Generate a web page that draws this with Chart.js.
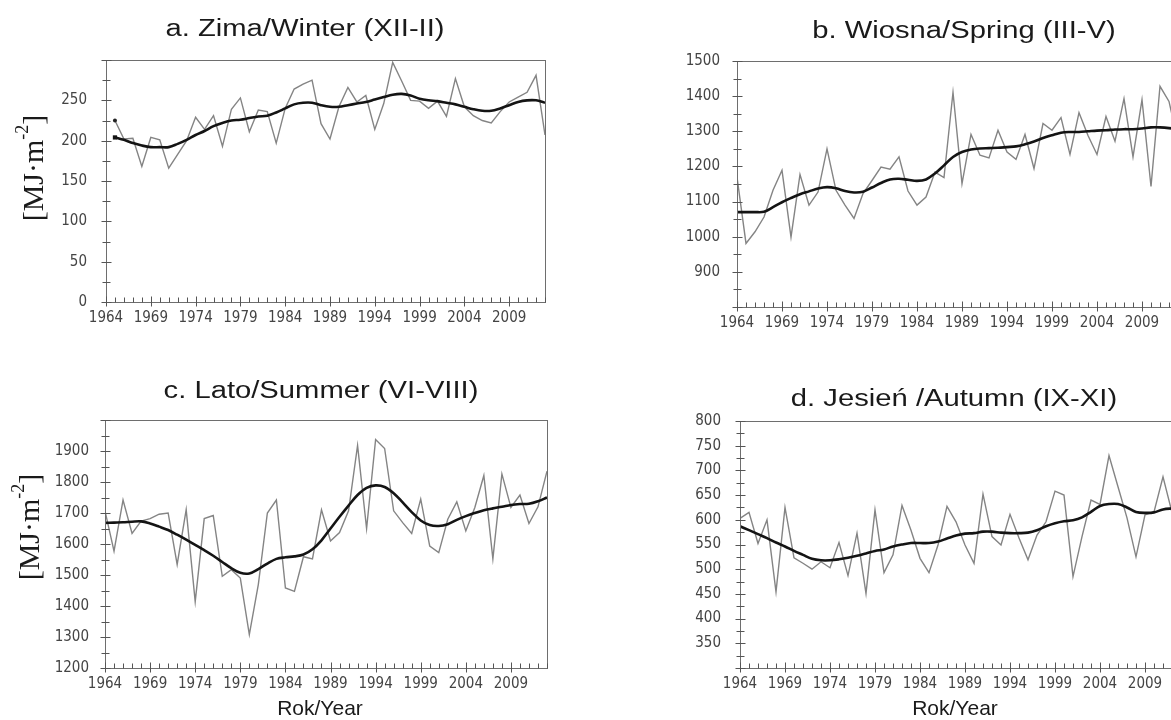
<!DOCTYPE html>
<html>
<head>
<meta charset="utf-8">
<script src="https://cdn.jsdelivr.net/npm/chart.js@4.4.1/dist/chart.umd.min.js"></script>
<style>
html,body{margin:0;padding:0;background:#fff;overflow:hidden;width:1171px;height:720px;}
canvas{position:absolute;display:block;}
</style>
</head>
<body>
<canvas id="ca" width="590" height="340" style="left:0px;top:0px"></canvas>
<canvas id="cb" width="640" height="340" style="left:600px;top:0px"></canvas>
<canvas id="cc" width="590" height="370" style="left:0px;top:360px"></canvas>
<canvas id="cd" width="640" height="370" style="left:600px;top:360px"></canvas>
<script>
// ---------------- DATA ----------------
const years = [1964,1965,1966,1967,1968,1969,1970,1971,1972,1973,1974,1975,1976,1977,1978,1979,1980,1981,1982,1983,1984,1985,1986,1987,1988,1989,1990,1991,1992,1993,1994,1995,1996,1997,1998,1999,2000,2001,2002,2003,2004,2005,2006,2007,2008,2009,2010,2011,2012,2013];
const winterYears = years.slice(1);
const xTickYears = [1964,1969,1974,1979,1984,1989,1994,1999,2004,2009];

const winterObs = [225,202,203,168,204,201,166,183,200,229,214,231,193,239,253,211,238,236,197,240,264,270,275,221,202,242,266,248,256,214,246,297,274,250,249,240,249,230,277,242,231,225,222,236,248,254,260,281,207];
const winterSmooth = [204,201,197,194,192,192,192,196,201,207,212,218,222,225,226,228,230,231,235,240,245,247,247,244,242,242,244,246,248,251,254,257,258,256,252,250,249,247,245,242,239,237,237,240,244,248,250,250,247];
const winterTicks = [0,50,100,150,200,250];

const springObs = [1170,981,1014,1056,1132,1189,999,1177,1090,1127,1250,1132,1090,1052,1123,1160,1198,1192,1227,1130,1090,1113,1184,1168,1411,1151,1291,1232,1224,1303,1241,1220,1291,1194,1322,1303,1339,1234,1353,1288,1234,1342,1272,1393,1227,1390,1143,1428,1385,1270];
const springSmooth = [1070,1070,1070,1071,1084,1098,1110,1121,1129,1137,1141,1138,1130,1126,1128,1140,1153,1163,1165,1162,1159,1163,1180,1203,1227,1241,1248,1251,1252,1253,1255,1257,1263,1271,1281,1289,1296,1298,1298,1300,1302,1303,1305,1306,1306,1308,1311,1311,1309,1305];
const springTicks = [900,1000,1100,1200,1300,1400,1500];

const summerObs = [1707,1577,1742,1634,1674,1682,1696,1700,1534,1711,1414,1682,1692,1496,1517,1490,1308,1470,1700,1742,1458,1447,1559,1552,1710,1610,1637,1707,1918,1650,1937,1908,1707,1669,1634,1745,1593,1572,1680,1736,1642,1718,1821,1552,1826,1718,1758,1666,1720,1835];
const summerSmooth = [1668,1669,1670,1672,1673,1666,1656,1645,1630,1614,1597,1580,1562,1542,1522,1507,1505,1519,1537,1552,1557,1560,1566,1583,1612,1650,1688,1724,1758,1781,1789,1784,1764,1734,1703,1676,1661,1658,1664,1678,1690,1700,1709,1715,1720,1726,1729,1730,1738,1750];
const summerTicks = [1200,1300,1400,1500,1600,1700,1800,1900];

const autumnObs = [603,615,552,600,454,625,523,512,500,515,503,554,487,573,451,620,493,529,629,579,522,493,549,627,596,549,512,652,566,549,611,563,519,569,596,658,650,485,566,640,631,730,667,604,525,610,616,687,615,640];
const autumnSmooth = [587,579,571,563,554,546,537,529,521,518,518,520,523,527,532,537,540,546,550,553,553,553,556,562,568,572,573,576,576,574,573,573,574,579,587,593,597,599,605,616,628,632,632,625,616,614,615,621,623,624];
const autumnTicks = [350,400,450,500,550,600,650,700,750,800];

// ---------------- DRAWING ----------------
const TICK_FONT = '"Liberation Sans Narrow", "Arial Narrow", "DejaVu Sans Condensed", sans-serif';
const TEXT_FONT = '"Liberation Sans", Arial, sans-serif';

const deco = {
  id: 'deco',
  afterDraw(chart, args, o) {
    const ctx = chart.ctx, a = chart.chartArea, xs = chart.scales.x, ys = chart.scales.y;
    ctx.save();
    ctx.strokeStyle = '#6e6e6e';
    ctx.lineWidth = 1;
    ctx.strokeRect(Math.round(a.left) + 0.5, Math.round(a.top) + 0.5, Math.round(a.right - a.left), Math.round(a.bottom - a.top));
    ctx.strokeStyle = '#555';
    ctx.beginPath();
    const L = Math.round(a.left) + 0.5, B = Math.round(a.bottom) + 0.5;
    for (let v = ys.min; v <= ys.max + 1e-6; v += o.yMinor) {
      const y = Math.round(ys.getPixelForValue(v)) + 0.5;
      const r = (v - ys.min) % o.yMajor;
      const major = Math.abs(r) < 1e-6 || Math.abs(r - o.yMajor) < 1e-6;
      const len = major ? 5 : 4;
      ctx.moveTo(L - len, y); ctx.lineTo(L + len, y);
    }
    for (const yr of years) {
      const x = Math.round(xs.getPixelForValue(yr)) + 0.5;
      if (xTickYears.includes(yr)) { ctx.moveTo(x, B + 4); ctx.lineTo(x, B - 6); }
      else { ctx.moveTo(x, B); ctx.lineTo(x, B - 5); }
    }
    ctx.stroke();
    ctx.fillStyle = '#1a1a1a';
    ctx.textBaseline = 'middle';
    ctx.textAlign = 'center';
    ctx.font = o.titleSize + 'px ' + TEXT_FONT;
    ctx.save();
    ctx.translate(o.titleX - o.ox, o.titleY - o.oy);
    ctx.scale(o.titleStretch, 1);
    ctx.fillText(o.title, 0, 0);
    ctx.restore();
    if (o.xLabel) {
      ctx.font = '21px ' + TEXT_FONT;
      ctx.fillText(o.xLabel, o.xLabelX - o.ox, o.xLabelY - o.oy);
    }
    if (o.yLabel) {
      ctx.save();
      ctx.translate(o.yLabelX - o.ox, o.yLabelY - o.oy);
      ctx.rotate(-Math.PI / 2);
      ctx.textAlign = 'left';
      ctx.textBaseline = 'middle';
      const big = '30px "Liberation Serif", "Times New Roman", serif';
      const small = '18px "Liberation Serif", "Times New Roman", serif';
      ctx.font = big; const w1 = ctx.measureText('[MJ\u00B7m').width;
      ctx.font = small; const w2 = ctx.measureText('-2').width;
      ctx.font = big; const w3 = ctx.measureText(']').width;
      let x0 = -(w1 + w2 + w3) / 2;
      ctx.font = big; ctx.fillText('[MJ\u00B7m', x0, 0);
      ctx.font = small; ctx.fillText('-2', x0 + w1, -12);
      ctx.font = big; ctx.fillText(']', x0 + w1 + w2, 0);
      ctx.restore();
    }
    ctx.restore();
  }
};

function makePanel(id, s) {
  const obsPts = s.xs.map((x, i) => ({x: x, y: s.obs[i]}));
  const smPts = s.xs.map((x, i) => ({x: x, y: s.smooth[i]}));
  const cw = s.cw, ch = s.ch;
  const XH = 30;
  new Chart(document.getElementById(id), {
    type: 'line',
    data: {
      datasets: [
        {data: smPts, borderColor: '#141414', borderWidth: 2.6, tension: 0.35,
         pointRadius: c => (s.dots && c.dataIndex === 0) ? 3 : 0,
         pointBackgroundColor: '#141414', pointBorderWidth: 0, pointStyle: 'rect'},
        {data: obsPts, borderColor: '#848484', borderWidth: 1.4, tension: 0,
         pointRadius: c => (s.dots && c.dataIndex === 0) ? 2 : 0,
         pointBackgroundColor: '#222', pointBorderWidth: 0}
      ]
    },
    options: {
      responsive: false,
      animation: false,
      events: [],
      layout: {padding: {left: 0, top: s.T - s.oy, right: (s.ox + cw) - s.R, bottom: (s.oy + ch) - s.B - XH}},
      plugins: {
        legend: {display: false}, tooltip: {enabled: false}, title: {display: false},
        deco: {ox: s.ox, oy: s.oy, title: s.title, titleX: s.titleX, titleY: s.titleY, titleSize: 23, titleStretch: 1.27,
               yMinor: s.yMinor, yMajor: s.yMajor,
               xLabel: s.xLabel, xLabelX: s.xLabelX, xLabelY: s.xLabelY,
               yLabel: s.yLabel, yLabelX: s.yLabelX, yLabelY: s.yLabelY}
      },
      scales: {
        x: {
          type: 'linear', min: 1964, max: 2013,
          grid: {display: false, drawTicks: false}, border: {display: false},
          afterBuildTicks: sc => { sc.ticks = xTickYears.map(v => ({value: v})); },
          afterFit: sc => { sc.height = XH; },
          ticks: {autoSkip: false, maxRotation: 0, padding: 7, color: '#444',
                  font: {family: TICK_FONT, size: 15}, callback: v => String(v)}
        },
        y: {
          type: 'linear', min: s.yMin, max: s.yMax,
          grid: {display: false, drawTicks: false}, border: {display: false},
          afterBuildTicks: sc => { sc.ticks = s.yTicks.map(v => ({value: v})); },
          afterFit: sc => { sc.width = s.L - s.ox; },
          ticks: {autoSkip: false, padding: s.yPad, color: '#444',
                  font: {family: TICK_FONT, size: 15}, callback: v => String(v)}
        }
      }
    },
    plugins: [deco]
  });
}

makePanel('ca', {ox: 0, oy: 0, cw: 590, ch: 340, L: 106, T: 60, R: 545, B: 302,
  xs: winterYears, obs: winterObs, smooth: winterSmooth, dots: true,
  yMin: 0, yMax: 300, yTicks: winterTicks, yMinor: 25, yMajor: 50, yPad: 19,
  title: 'a. Zima/Winter (XII-II)', titleX: 305, titleY: 30,
  yLabel: true, yLabelX: 35, yLabelY: 168});

makePanel('cb', {ox: 600, oy: 0, cw: 640, ch: 340, L: 737, T: 61, R: 1178, B: 307,
  xs: years, obs: springObs, smooth: springSmooth, dots: false,
  yMin: 800, yMax: 1500, yTicks: springTicks, yMinor: 50, yMajor: 100, yPad: 17,
  title: 'b. Wiosna/Spring (III-V)', titleX: 964, titleY: 32});

makePanel('cc', {ox: 0, oy: 360, cw: 590, ch: 370, L: 105, T: 420, R: 547, B: 668,
  xs: years, obs: summerObs, smooth: summerSmooth, dots: false,
  yMin: 1200, yMax: 2000, yTicks: summerTicks, yMinor: 50, yMajor: 100, yPad: 16,
  title: 'c. Lato/Summer (VI-VIII)', titleX: 321, titleY: 392,
  yLabel: true, yLabelX: 31, yLabelY: 527,
  xLabel: 'Rok/Year', xLabelX: 320, xLabelY: 709});

makePanel('cd', {ox: 600, oy: 360, cw: 640, ch: 370, L: 740, T: 421, R: 1181, B: 668,
  xs: years, obs: autumnObs, smooth: autumnSmooth, dots: false,
  yMin: 300, yMax: 800, yTicks: autumnTicks, yMinor: 25, yMajor: 50, yPad: 19,
  title: 'd. Jesie\u0144 /Autumn (IX-XI)', titleX: 954, titleY: 400,
  xLabel: 'Rok/Year', xLabelX: 955, xLabelY: 709});
</script>
</body>
</html>
